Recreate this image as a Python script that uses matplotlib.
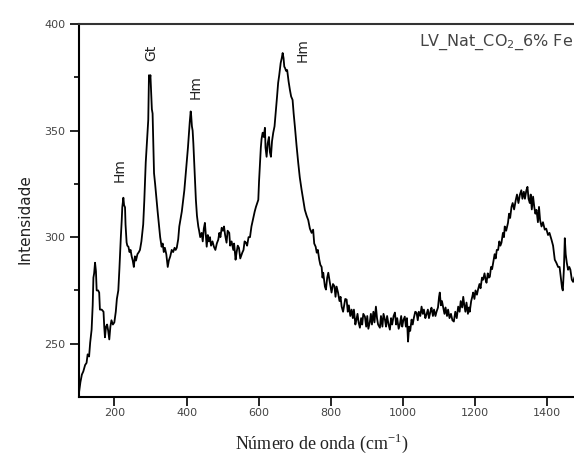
import matplotlib
matplotlib.use('Agg')
import matplotlib.pyplot as plt

# Raman spectrum
wavenumber = [
    102, 106, 110, 114, 119, 123, 126, 130, 133, 137,
    140, 142, 144, 146.5, 149, 151, 155, 158, 160, 165,
    170, 172, 174, 177, 180, 183, 186, 189, 192, 196,
    200, 204, 207, 211, 214, 216, 218, 220.5, 222, 225,
    227, 229.6, 231, 234, 236, 239, 242, 245, 248, 251,
    254, 257, 260, 264, 268, 271, 275, 278, 280, 283,
    285, 287, 289.7, 292, 294, 296, 298, 300, 302, 304,
    306, 308, 310, 313, 317, 320, 324, 327, 331, 334,
    337, 340, 344, 348, 351, 355, 359, 363, 367, 370,
    373, 377, 380, 383, 387, 391, 394, 397, 400.5, 404,
    407, 409, 411.6, 413, 415, 417, 419, 422, 424, 426,
    429, 432.7, 435, 438, 442, 445, 448, 451, 454, 456,
    459, 462, 465, 468, 472, 476, 480, 484, 488, 491,
    494, 497.5, 501, 504, 507, 511, 514, 518.5, 521, 525,
    529.6, 532, 536, 539, 542, 545.4, 549, 554.6, 558, 561,
    564.8, 568, 572, 576, 580, 585, 589, 592.5, 596, 599,
    601, 603.6, 606, 608, 611, 614, 617.4, 619, 622, 625,
    628.5, 631, 634, 637, 640.4, 644, 648, 651, 654, 657,
    661, 664, 666.5, 669, 671, 673, 676, 679, 683, 686.7,
    690, 694, 697, 700.5, 705, 709.7, 714, 719, 723, 728,
    733, 737.4, 742, 746.8, 751, 754, 758, 761, 764, 768,
    771, 774.5, 777, 779, 783.6, 786.5, 790, 793, 797, 802,
    806, 810, 813, 816, 820, 824, 827, 830, 834, 837,
    840, 843.8, 847, 850, 854, 857.6, 861, 864, 868, 871,
    874, 877, 880.6, 884, 887, 890, 894.5, 898, 901, 904,
    908, 911, 914, 918, 921, 925, 928, 931, 936, 939,
    943, 946, 950, 953, 956, 960, 963.7, 967, 970, 974,
    977.6, 981, 984, 988, 991.4, 995, 998, 1001, 1005, 1008,
    1011, 1014, 1017, 1020, 1023.8, 1027, 1030, 1034, 1037.6, 1041,
    1044, 1048, 1051.5, 1055, 1058, 1062, 1065, 1069, 1072, 1076,
    1079, 1083, 1086, 1090, 1093, 1097, 1100, 1102, 1105, 1108,
    1111, 1115, 1118, 1122, 1125, 1129, 1133, 1137, 1141, 1145,
    1149, 1153, 1157, 1160, 1164, 1167, 1170, 1173, 1176, 1180,
    1183, 1185, 1189, 1192, 1194.5, 1198, 1201, 1205, 1208, 1212,
    1215, 1219, 1222, 1226, 1229, 1231.5, 1235, 1238, 1240.7, 1244,
    1247, 1250, 1254, 1257, 1260, 1263.7, 1267, 1270, 1273, 1277,
    1280, 1282, 1286, 1291, 1294, 1297, 1300.8, 1304, 1308, 1312.7,
    1316, 1320, 1324, 1328, 1331, 1335, 1338, 1342, 1345, 1348,
    1351.5, 1354, 1357, 1360.6, 1364, 1367, 1370, 1374, 1377, 1380,
    1384, 1388, 1393, 1397, 1402, 1406, 1411.6, 1416, 1420.7, 1425,
    1430, 1434, 1439, 1441, 1443, 1446, 1448.5, 1451, 1454, 1457.6,
    1461, 1464, 1468, 1471.5, 1475,
]
intensity = [
    227, 232, 235.5, 237, 240, 241, 245, 244, 250.5, 256.6,
    268, 281, 283, 288, 284, 275, 275, 274, 266, 266,
    265, 258, 253, 258, 259, 256, 252, 258, 261, 259,
    260, 265, 271, 275, 285, 293, 300, 308, 314, 318.5,
    315, 314, 306, 297.5, 296, 295.5, 293, 294, 291, 289,
    286, 291, 289, 292, 293, 294, 298, 303, 306, 317,
    325.5, 335, 343, 350, 355, 376, 374, 376, 368, 360,
    358, 345, 330, 325, 317.5, 312, 305, 300, 295.5, 297,
    293, 295, 292, 286, 289, 291, 294, 293, 295, 294,
    295, 299, 305, 308, 312, 317.5, 322, 328, 335, 342,
    349, 354, 359, 357, 352, 350, 344, 333, 325, 317.5,
    310, 305, 303, 300, 302, 298, 304, 306.7, 300, 295.5,
    301, 298, 300, 296, 298, 295.5, 294, 297, 298.8, 302,
    300, 304.4, 303, 305, 301, 297.4, 303, 302, 296, 298,
    294, 297, 289.4, 293, 296, 295, 290, 292.7, 294, 298,
    297.4, 296, 300, 300, 305, 309, 312, 314.2, 316, 317.5,
    326, 334.8, 342, 346, 349, 347, 351.3, 342, 337.7, 344,
    347, 340, 337.7, 345, 349, 352, 359.7, 366, 372.4, 376,
    381.7, 384, 386.4, 384, 380, 379.4, 378, 378.4, 373, 369,
    366, 364.4, 358, 351.7, 343, 334.8, 328, 322.2, 318, 312.8,
    310, 308, 304, 302, 303.5, 297, 295.5, 292.7, 294, 289.4,
    287, 286, 281, 283.3, 276.8, 275.4, 281, 283.3, 279, 274,
    278, 277, 272, 276.8, 274, 270, 272, 267.4, 265, 268,
    271, 270.7, 265, 268, 263, 266, 262, 266, 259, 261.3,
    264, 260, 257.5, 262, 259, 264, 262.7, 258, 263, 257,
    260, 264, 259, 265, 260, 267.4, 262, 259, 257.5, 263,
    258, 264, 261.3, 258, 263, 259, 256.6, 262, 259, 263,
    264.6, 259, 262, 257, 259, 263, 258, 261, 262.7, 258,
    262, 251, 258, 256, 261.3, 259, 262, 265, 264.6, 261,
    265, 263, 267.4, 264, 266, 262, 263.6, 266, 262, 265,
    266.9, 263, 266, 263, 265, 267, 272, 274, 268, 270,
    267.4, 264, 267, 263, 266, 262, 264, 261, 260.4, 265,
    262, 267.4, 265, 270, 267, 272, 268, 265, 269.3, 264,
    267, 265, 270, 272, 274, 271, 275, 273, 275.4, 278,
    276, 281, 280, 283, 280, 278.6, 283, 281, 281.4, 286,
    285, 288, 292, 290, 294, 294, 298, 296, 297.4, 302,
    300, 305, 303, 306.7, 311, 309, 314.2, 316, 313, 317.5,
    320, 316, 319.9, 322, 318, 321.3, 318, 322, 323.6, 318,
    316, 320, 313, 319, 314, 311, 312.8, 307, 314.2, 308,
    305, 307, 303.5, 304, 301, 302, 298.8, 296, 289.4, 288,
    286, 286, 279, 276, 275, 285, 299.5, 292, 288, 284.7,
    286, 284.7, 280, 279, 281,
]

# band assignments: (label, wavenumber, intensity of label centre)
band_labels = ['Hm', 'Gt', 'Hm', 'Hm']
band_x = [216, 303, 426, 723]
band_y = [331.5, 386.5, 370.5, 388]

plt.rcParams['mathtext.fontset'] = 'custom'
plt.rcParams['mathtext.rm'] = 'Liberation Serif'

fig = plt.figure(figsize=(5.74, 4.54), dpi=100)
ax = fig.add_axes([0.1376, 0.1256, 0.8624, 0.8215])

ax.plot(wavenumber, intensity, color='black', lw=1.3)

for label, bx, by in zip(band_labels, band_x, band_y):
    ax.text(bx, by, label, rotation=90, ha='center', va='center',
            fontsize=10, color='#222222')

ax.text(0.998, 0.978, 'LV_Nat_CO$_{\\mathsf{2}}$_6% Fe', transform=ax.transAxes,
        ha='right', va='top', fontsize=11.5, color='#444444')

ax.set_xlim(102, 1474)
ax.set_ylim(225, 400)
ax.set_xticks([200, 400, 600, 800, 1000, 1200, 1400])
ax.set_yticks([250, 300, 350, 400])
ax.set_yticks([275, 325, 375], minor=True)

ax.spines['right'].set_visible(False)
ax.spines['top'].set_color('#333333')
for side in ['left', 'bottom', 'top']:
    ax.spines[side].set_linewidth(1.5)

ax.tick_params(axis='both', which='major', direction='out', length=6.5,
               width=1.2, labelsize=8, labelcolor='#444444')
ax.tick_params(axis='x', which='major', pad=1.5)
ax.tick_params(axis='y', which='major', pad=3.5)
ax.tick_params(axis='y', which='minor', direction='out', length=3.5, width=1.2)

ax.set_ylabel('Intensidade', fontsize=11, color='#222222')
ax.yaxis.set_label_coords(-0.093, 0.477)
ax.set_xlabel('Número de onda (cm$^{-1}$)', fontsize=13,
              family='Liberation Serif', color='#222222')
ax.xaxis.set_label_coords(0.491, -0.094)

fig.savefig('out.png', dpi=100)
